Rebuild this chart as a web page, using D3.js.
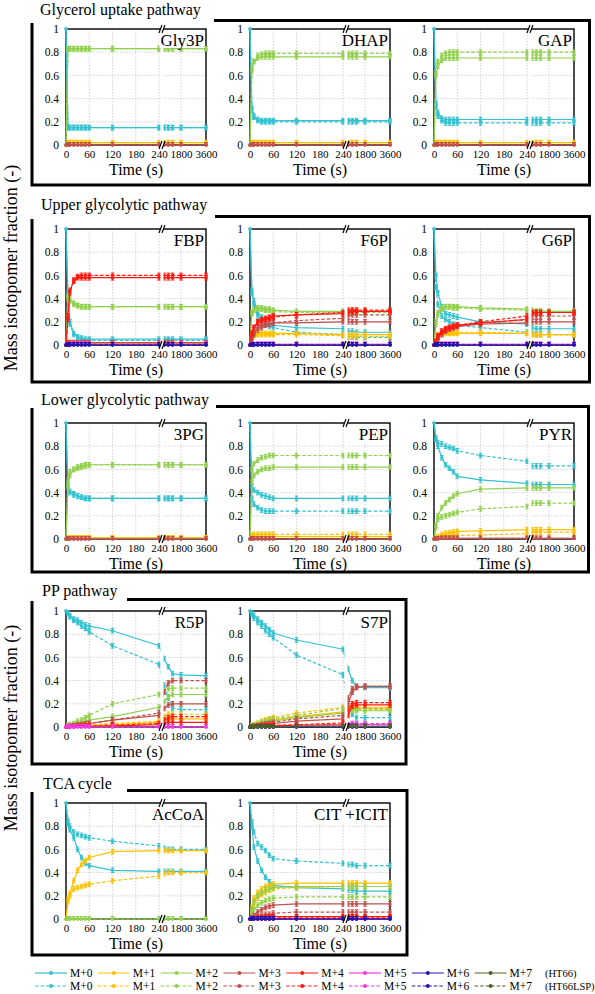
<!DOCTYPE html>
<html><head><meta charset="utf-8">
<script src="https://cdn.jsdelivr.net/npm/d3@7"></script>
<style>body{margin:0;background:#fff}svg,svg text{font-family:"Liberation Serif","Times New Roman",Tinos,"DejaVu Serif",serif}</style>
</head><body><svg id="c" width="595" height="994" font-family="Liberation Serif, Times New Roman, serif"></svg>
<script>
// ---------------- DATA ----------------
const times = [0,5,10,20,30,40,50,60,120,240,600,900,1200,1800,3600];
const xTickValues = [0,60,120,180,240,1800,3600];
const yTickValues = [0,0.2,0.4,0.6,0.8,1];
const isotopomers = ["M+0","M+1","M+2","M+3","M+4","M+5","M+6","M+7"];
const strains = ["(HT66)","(HT66LSP)"];
const colors = ["#35C2D0","#FFC000","#92D050","#C0504D","#FF1A0F","#F03CE0","#2414A8","#4F6228"];
const groupTitles = ["Glycerol uptake pathway","Upper glycolytic pathway","Lower glycolytic pathway","PP pathway","TCA cycle"];
const errorSize = 0.02;

// each array: one list per isotopomer (M+0, M+1, ...), values at `times`
const Gly3P_HT66 = [
 [1,0.15,0.15,0.15,0.15,0.15,0.15,0.15,0.15,0.15,0.15,0.15,0.15,0.15,0.15],
 [0,0.02,0.02,0.02,0.02,0.02,0.02,0.02,0.02,0.02,0.02,0.02,0.02,0.02,0.02],
 [0,0.83,0.83,0.83,0.83,0.83,0.83,0.83,0.83,0.83,0.83,0.83,0.83,0.83,0.83],
 [0,0,0,0,0,0,0,0,0,0,0,0,0,0,0]];
const Gly3P_HT66LSP = [
 [1,0.15,0.15,0.15,0.15,0.15,0.15,0.15,0.15,0.15,0.15,0.15,0.15,0.15,0.15],
 [0,0.02,0.02,0.02,0.02,0.02,0.02,0.02,0.02,0.02,0.02,0.02,0.02,0.02,0.02],
 [0,0.83,0.83,0.83,0.83,0.83,0.83,0.83,0.83,0.83,0.83,0.83,0.83,0.83,0.83],
 [0,0,0,0,0,0,0,0,0,0,0,0,0,0,0]];
const DHAP_HT66 = [
 [1,0.3,0.24,0.22,0.21,0.21,0.21,0.21,0.21,0.21,0.21,0.21,0.21,0.21,0.21],
 [0,0.02,0.02,0.02,0.02,0.02,0.02,0.02,0.02,0.02,0.02,0.02,0.02,0.02,0.02],
 [0,0.66,0.72,0.75,0.76,0.76,0.76,0.76,0.76,0.76,0.76,0.76,0.76,0.76,0.76],
 [0,0,0,0,0,0,0,0,0,0,0,0,0,0,0]];
const DHAP_HT66LSP = [
 [1,0.32,0.25,0.21,0.2,0.2,0.2,0.2,0.2,0.2,0.2,0.2,0.2,0.2,0.2],
 [0,0.02,0.02,0.02,0.02,0.02,0.02,0.02,0.02,0.02,0.02,0.02,0.02,0.02,0.02],
 [0,0.64,0.72,0.77,0.78,0.79,0.79,0.79,0.79,0.79,0.79,0.79,0.79,0.79,0.79],
 [0,0,0,0,0,0,0,0,0,0,0,0,0,0,0]];
const GAP_HT66 = [
 [1,0.36,0.28,0.23,0.22,0.22,0.22,0.22,0.22,0.22,0.22,0.22,0.22,0.22,0.22],
 [0,0.02,0.02,0.02,0.02,0.02,0.02,0.02,0.02,0.02,0.02,0.02,0.02,0.02,0.02],
 [0,0.6,0.68,0.73,0.75,0.75,0.75,0.75,0.75,0.75,0.75,0.75,0.75,0.75,0.75],
 [0,0,0,0,0,0,0,0,0,0,0,0,0,0,0]];
const GAP_HT66LSP = [
 [1,0.33,0.25,0.21,0.19,0.19,0.19,0.19,0.19,0.19,0.19,0.19,0.19,0.19,0.19],
 [0,0.02,0.02,0.02,0.02,0.02,0.02,0.02,0.02,0.02,0.02,0.02,0.02,0.02,0.02],
 [0,0.62,0.72,0.77,0.79,0.8,0.8,0.8,0.8,0.8,0.8,0.8,0.8,0.8,0.8],
 [0,0,0,0,0,0,0,0,0,0,0,0,0,0,0]];
const FBP_HT66 = [
 [1,0.45,0.2,0.1,0.07,0.06,0.05,0.05,0.05,0.05,0.05,0.05,0.05,0.05,0.05],
 [0,0.01,0.01,0.01,0.01,0.01,0.01,0.01,0.01,0.01,0.01,0.01,0.01,0.01,0.01],
 [0,0.42,0.4,0.35,0.34,0.33,0.33,0.33,0.33,0.33,0.33,0.33,0.33,0.33,0.33],
 [0,0.02,0.02,0.02,0.02,0.02,0.02,0.02,0.02,0.02,0.02,0.02,0.02,0.02,0.02],
 [0,0.25,0.47,0.55,0.58,0.58,0.58,0.58,0.58,0.58,0.58,0.58,0.58,0.58,0.58],
 [0,0,0,0.005,0.005,0.005,0.005,0.005,0.005,0.005,0.005,0.005,0.005,0.005,0.005],
 [0,0,0,0,0,0,0,0,0,0,0,0,0,0,0]];
const FBP_HT66LSP = [
 [1,0.42,0.18,0.09,0.06,0.05,0.04,0.04,0.04,0.04,0.04,0.04,0.04,0.04,0.04],
 [0,0.01,0.01,0.01,0.01,0.01,0.01,0.01,0.01,0.01,0.01,0.01,0.01,0.01,0.01],
 [0,0.4,0.38,0.36,0.34,0.33,0.33,0.33,0.33,0.33,0.33,0.33,0.33,0.33,0.33],
 [0,0.02,0.02,0.02,0.02,0.02,0.02,0.02,0.02,0.02,0.02,0.02,0.02,0.02,0.02],
 [0,0.22,0.45,0.56,0.59,0.6,0.6,0.6,0.6,0.6,0.6,0.6,0.6,0.6,0.6],
 [0,0,0,0.005,0.005,0.005,0.005,0.005,0.005,0.005,0.005,0.005,0.005,0.005,0.005],
 [0,0,0,0,0,0,0,0,0,0,0,0,0,0,0]];
const F6P_HT66 = [
 [1,0.47,0.38,0.28,0.24,0.2,0.18,0.17,0.15,0.14,0.12,0.12,0.11,0.11,0.11],
 [0,0.08,0.09,0.1,0.1,0.1,0.1,0.1,0.1,0.09,0.09,0.09,0.09,0.09,0.09],
 [0,0.28,0.3,0.32,0.32,0.31,0.31,0.3,0.29,0.29,0.29,0.29,0.29,0.29,0.29],
 [0,0.05,0.1,0.15,0.17,0.18,0.18,0.19,0.19,0.2,0.2,0.2,0.2,0.2,0.2],
 [0,0.1,0.15,0.2,0.22,0.23,0.24,0.25,0.26,0.27,0.28,0.29,0.29,0.29,0.29],
 [0,0,0,0.005,0.005,0.005,0.005,0.005,0.005,0.005,0.005,0.005,0.005,0.005,0.005],
 [0,0,0,0,0,0,0,0,0,0,0,0,0,0,0]];
const F6P_HT66LSP = [
 [1,0.45,0.35,0.25,0.2,0.18,0.16,0.15,0.11,0.09,0.07,0.07,0.065,0.065,0.065],
 [0,0.07,0.08,0.09,0.09,0.09,0.09,0.09,0.09,0.08,0.075,0.075,0.075,0.075,0.075],
 [0,0.27,0.3,0.31,0.31,0.3,0.3,0.29,0.28,0.28,0.28,0.28,0.28,0.28,0.28],
 [0,0.05,0.09,0.13,0.15,0.17,0.18,0.19,0.21,0.23,0.25,0.26,0.26,0.26,0.26],
 [0,0.1,0.15,0.19,0.21,0.22,0.23,0.24,0.26,0.28,0.3,0.3,0.3,0.3,0.3],
 [0,0,0,0.005,0.005,0.005,0.005,0.005,0.005,0.005,0.005,0.005,0.005,0.005,0.005],
 [0,0,0,0,0,0,0,0,0,0,0,0,0,0,0]];
const G6P_HT66 = [
 [1,0.6,0.45,0.33,0.27,0.26,0.25,0.24,0.2,0.18,0.15,0.14,0.14,0.14,0.14],
 [0,0.05,0.08,0.09,0.1,0.1,0.1,0.1,0.1,0.1,0.09,0.09,0.09,0.09,0.09],
 [0,0.2,0.28,0.32,0.33,0.33,0.33,0.33,0.32,0.31,0.3,0.29,0.29,0.29,0.29],
 [0,0.02,0.06,0.1,0.13,0.14,0.15,0.16,0.18,0.19,0.2,0.2,0.2,0.2,0.2],
 [0,0.03,0.08,0.12,0.14,0.15,0.16,0.17,0.19,0.22,0.27,0.28,0.28,0.28,0.28],
 [0,0,0,0.005,0.005,0.005,0.005,0.005,0.005,0.005,0.005,0.005,0.005,0.005,0.005],
 [0,0,0,0,0,0,0,0,0,0,0,0,0,0,0]];
const G6P_HT66LSP = [
 [1,0.5,0.35,0.25,0.22,0.2,0.18,0.17,0.15,0.11,0.1,0.09,0.09,0.09,0.09],
 [0,0.06,0.09,0.1,0.11,0.11,0.11,0.11,0.11,0.1,0.09,0.09,0.09,0.09,0.09],
 [0,0.18,0.26,0.31,0.33,0.33,0.32,0.32,0.31,0.3,0.29,0.29,0.29,0.29,0.29],
 [0,0.02,0.05,0.09,0.12,0.14,0.15,0.16,0.19,0.22,0.25,0.25,0.25,0.25,0.25],
 [0,0.03,0.07,0.11,0.13,0.15,0.16,0.17,0.2,0.25,0.28,0.28,0.28,0.28,0.28],
 [0,0,0,0.005,0.005,0.005,0.005,0.005,0.005,0.005,0.005,0.005,0.005,0.005,0.005],
 [0,0,0,0,0,0,0,0,0,0,0,0,0,0,0]];
const PG3_HT66 = [
 [1,0.47,0.4,0.39,0.37,0.36,0.35,0.35,0.35,0.35,0.35,0.35,0.35,0.35,0.35],
 [0,0.01,0.01,0.01,0.01,0.01,0.01,0.01,0.01,0.01,0.01,0.01,0.01,0.01,0.01],
 [0,0.45,0.55,0.6,0.61,0.62,0.63,0.64,0.64,0.64,0.64,0.64,0.64,0.64,0.64],
 [0,0,0,0,0,0,0,0,0,0,0,0,0,0,0]];
const PG3_HT66LSP = [
 [1,0.45,0.41,0.38,0.37,0.36,0.35,0.35,0.35,0.35,0.35,0.35,0.35,0.35,0.35],
 [0,0.01,0.01,0.01,0.01,0.01,0.01,0.01,0.01,0.01,0.01,0.01,0.01,0.01,0.01],
 [0,0.5,0.58,0.6,0.62,0.63,0.64,0.64,0.64,0.64,0.64,0.64,0.64,0.64,0.64],
 [0,0,0,0,0,0,0,0,0,0,0,0,0,0,0]];
const PEP_HT66 = [
 [1,0.45,0.42,0.4,0.38,0.37,0.36,0.35,0.35,0.35,0.35,0.35,0.35,0.35,0.35],
 [0,0.02,0.02,0.02,0.02,0.02,0.02,0.02,0.02,0.02,0.02,0.02,0.02,0.02,0.02],
 [0,0.5,0.55,0.58,0.6,0.61,0.61,0.62,0.62,0.62,0.62,0.62,0.62,0.62,0.62],
 [0,0,0,0,0,0,0,0,0,0,0,0,0,0,0]];
const PEP_HT66LSP = [
 [1,0.35,0.3,0.27,0.25,0.24,0.24,0.24,0.24,0.24,0.24,0.24,0.24,0.24,0.24],
 [0,0.03,0.04,0.04,0.04,0.04,0.04,0.04,0.04,0.04,0.04,0.04,0.04,0.04,0.04],
 [0,0.6,0.65,0.68,0.7,0.71,0.72,0.72,0.72,0.72,0.72,0.72,0.72,0.72,0.72],
 [0,0,0,0,0,0,0,0,0,0,0,0,0,0,0]];
const PYR_HT66 = [
 [1,0.86,0.8,0.7,0.64,0.61,0.58,0.54,0.51,0.48,0.47,0.47,0.47,0.47,0.47],
 [0,0.01,0.02,0.04,0.05,0.055,0.06,0.065,0.07,0.08,0.08,0.08,0.08,0.08,0.08],
 [0,0.1,0.2,0.27,0.31,0.34,0.37,0.39,0.43,0.44,0.44,0.44,0.44,0.44,0.44],
 [0,0,0,0.005,0.005,0.005,0.005,0.005,0.005,0.005,0.005,0.005,0.005,0.005,0.005]];
const PYR_HT66LSP = [
 [1,0.87,0.83,0.82,0.8,0.79,0.78,0.76,0.72,0.67,0.63,0.63,0.63,0.63,0.63],
 [0,0.005,0.01,0.015,0.02,0.025,0.03,0.03,0.035,0.045,0.06,0.06,0.06,0.06,0.06],
 [0,0.12,0.17,0.19,0.2,0.21,0.22,0.23,0.26,0.28,0.31,0.31,0.31,0.31,0.31],
 [0,0,0,0.005,0.005,0.005,0.005,0.005,0.005,0.005,0.005,0.005,0.005,0.005,0.005]];
const R5P_HT66 = [
 [1,0.98,0.96,0.93,0.92,0.9,0.88,0.87,0.83,0.7,0.59,0.52,0.46,0.45,0.44],
 [0,0,0.005,0.005,0.01,0.01,0.01,0.015,0.02,0.04,0.06,0.07,0.07,0.07,0.07],
 [0,0.005,0.01,0.02,0.03,0.04,0.05,0.06,0.09,0.17,0.22,0.26,0.28,0.28,0.28],
 [0,0,0.005,0.01,0.015,0.02,0.025,0.03,0.06,0.1,0.16,0.19,0.2,0.2,0.2],
 [0,0,0,0,0.005,0.005,0.005,0.005,0.01,0.02,0.03,0.04,0.04,0.04,0.04],
 [0,0,0,0,0,0,0,0,0,0,0,0,0,0,0]];
const R5P_HT66LSP = [
 [1,0.98,0.95,0.92,0.9,0.87,0.85,0.82,0.7,0.54,0.36,0.25,0.16,0.15,0.15],
 [0,0,0.005,0.01,0.01,0.015,0.015,0.02,0.03,0.05,0.09,0.11,0.11,0.11,0.11],
 [0,0.01,0.02,0.03,0.05,0.06,0.08,0.1,0.2,0.28,0.31,0.33,0.335,0.335,0.335],
 [0,0,0.005,0.01,0.015,0.02,0.025,0.03,0.06,0.12,0.3,0.38,0.4,0.4,0.4],
 [0,0,0,0,0.005,0.005,0.005,0.01,0.015,0.03,0.06,0.08,0.09,0.09,0.09],
 [0,0,0,0,0,0,0,0,0,0,0,0,0,0,0]];
const S7P_HT66 = [
 [1,0.98,0.96,0.93,0.9,0.87,0.84,0.81,0.75,0.67,0.5,0.4,0.35,0.34,0.34],
 [0,0.005,0.01,0.02,0.03,0.04,0.05,0.06,0.09,0.13,0.15,0.16,0.16,0.16,0.16],
 [0,0.005,0.01,0.02,0.03,0.035,0.04,0.05,0.08,0.12,0.14,0.14,0.14,0.14,0.14],
 [0,0,0.005,0.01,0.015,0.02,0.025,0.03,0.05,0.07,0.2,0.3,0.34,0.35,0.35],
 [0,0,0,0.005,0.005,0.01,0.01,0.01,0.015,0.02,0.1,0.18,0.19,0.19,0.19],
 [0,0,0,0,0,0,0,0,0.005,0.005,0.01,0.02,0.02,0.02,0.02],
 [0,0,0,0,0,0,0,0,0,0,0,0,0,0,0],
 [0,0,0,0,0,0,0,0,0.005,0.005,0.005,0.005,0.005,0.005,0.005]];
const S7P_HT66LSP = [
 [1,0.97,0.94,0.9,0.87,0.83,0.8,0.77,0.62,0.45,0.2,0.11,0.08,0.08,0.08],
 [0,0.01,0.02,0.03,0.05,0.06,0.07,0.08,0.12,0.17,0.17,0.17,0.17,0.17,0.17],
 [0,0.01,0.015,0.03,0.04,0.05,0.06,0.07,0.1,0.16,0.15,0.15,0.15,0.15,0.15],
 [0,0,0.005,0.01,0.02,0.025,0.03,0.04,0.07,0.1,0.25,0.33,0.35,0.35,0.35],
 [0,0,0,0.005,0.005,0.01,0.01,0.015,0.02,0.035,0.15,0.2,0.21,0.21,0.21],
 [0,0,0,0,0,0,0,0,0.005,0.005,0.02,0.03,0.03,0.03,0.03],
 [0,0,0,0,0,0,0,0,0,0,0,0,0,0,0],
 [0,0,0,0,0,0,0,0,0.005,0.005,0.005,0.005,0.005,0.005,0.005]];
const AcCoA_HT66 = [
 [1,0.82,0.77,0.7,0.6,0.53,0.48,0.46,0.42,0.41,0.41,0.41,0.41,0.41,0.41],
 [0,0.17,0.22,0.33,0.42,0.47,0.5,0.53,0.58,0.59,0.59,0.59,0.59,0.59,0.59],
 [0,0,0,0,0,0,0,0,0,0,0,0,0,0,0]];
const AcCoA_HT66LSP = [
 [1,0.85,0.8,0.75,0.73,0.72,0.71,0.7,0.67,0.63,0.61,0.6,0.6,0.6,0.6],
 [0,0.15,0.2,0.26,0.27,0.28,0.29,0.3,0.33,0.37,0.39,0.4,0.4,0.4,0.4],
 [0,0,0,0,0,0,0,0,0,0,0,0,0,0,0]];
const CIT_HT66 = [
 [1,0.8,0.62,0.5,0.42,0.36,0.32,0.29,0.27,0.26,0.25,0.25,0.24,0.24,0.24],
 [0,0.1,0.18,0.23,0.26,0.28,0.29,0.3,0.31,0.31,0.31,0.31,0.31,0.31,0.31],
 [0,0.08,0.15,0.2,0.23,0.25,0.26,0.27,0.28,0.28,0.28,0.28,0.28,0.28,0.28],
 [0,0.01,0.03,0.06,0.08,0.1,0.11,0.12,0.13,0.13,0.13,0.13,0.13,0.13,0.13],
 [0,0,0,0.005,0.01,0.01,0.015,0.02,0.02,0.02,0.02,0.02,0.02,0.02,0.02],
 [0,0,0,0,0,0,0,0,0,0,0,0,0,0,0],
 [0,0,0,0,0,0,0,0,0,0,0,0,0,0,0]];
const CIT_HT66LSP = [
 [1,0.84,0.75,0.65,0.62,0.59,0.55,0.52,0.5,0.48,0.47,0.47,0.46,0.46,0.46],
 [0,0.06,0.12,0.18,0.21,0.23,0.25,0.26,0.27,0.28,0.28,0.28,0.28,0.28,0.28],
 [0,0.04,0.08,0.12,0.14,0.16,0.17,0.18,0.19,0.19,0.19,0.19,0.19,0.19,0.19],
 [0,0.005,0.01,0.02,0.03,0.04,0.04,0.05,0.06,0.06,0.06,0.06,0.06,0.06,0.06],
 [0,0,0,0.005,0.005,0.01,0.01,0.01,0.01,0.01,0.01,0.01,0.01,0.01,0.01],
 [0,0,0,0,0,0,0,0,0,0,0,0,0,0,0],
 [0,0,0,0,0,0,0,0,0,0,0,0,0,0,0]];

// ---------------- LAYOUT ----------------
const FONT = "Liberation Serif, Times New Roman, serif";
const svg = d3.select("#c");
const PW = 140, PH = 116;
const colX = [66, 250, 434];
const rowTop = [29, 229, 423, 611, 803];
const panels = [
 {name:"Gly3P", col:0, row:0, s:[Gly3P_HT66, Gly3P_HT66LSP]},
 {name:"DHAP", col:1, row:0, s:[DHAP_HT66, DHAP_HT66LSP]},
 {name:"GAP", col:2, row:0, s:[GAP_HT66, GAP_HT66LSP]},
 {name:"FBP", col:0, row:1, s:[FBP_HT66, FBP_HT66LSP]},
 {name:"F6P", col:1, row:1, s:[F6P_HT66, F6P_HT66LSP]},
 {name:"G6P", col:2, row:1, s:[G6P_HT66, G6P_HT66LSP]},
 {name:"3PG", col:0, row:2, s:[PG3_HT66, PG3_HT66LSP]},
 {name:"PEP", col:1, row:2, s:[PEP_HT66, PEP_HT66LSP]},
 {name:"PYR", col:2, row:2, s:[PYR_HT66, PYR_HT66LSP]},
 {name:"R5P", col:0, row:3, s:[R5P_HT66, R5P_HT66LSP]},
 {name:"S7P", col:1, row:3, s:[S7P_HT66, S7P_HT66LSP]},
 {name:"AcCoA", col:0, row:4, s:[AcCoA_HT66, AcCoA_HT66LSP]},
 {name:"CIT +ICIT", col:1, row:4, s:[CIT_HT66, CIT_HT66LSP]}
];

// group boxes
const groups = [
 {title:groupTitles[0], tx:40, ty:15, path:"M214,20.5H589.5V185H32V23"},
 {title:groupTitles[1], tx:41, ty:210, path:"M215,216.5H589.5V382H32V219"},
 {title:groupTitles[2], tx:41, ty:405, path:"M216,406.5H588.5V572H32V408"},
 {title:groupTitles[3], tx:42, ty:596, path:"M127,599.5H406V764H32V601"},
 {title:groupTitles[4], tx:43, ty:789, path:"M127,790.5H407V955H32V792"}
];
groups.forEach(g => {
  svg.append("path").attr("d", g.path).attr("fill","none").attr("stroke","#000").attr("stroke-width",3);
  svg.append("text").attr("x", g.tx).attr("y", g.ty).attr("font-family",FONT).attr("font-size", 16).text(g.title);
});

// y-axis titles
[268, 728].forEach(cy => {
  svg.append("text").attr("transform", `translate(17,${cy}) rotate(-90)`).attr("font-family",FONT)
    .attr("text-anchor","middle").attr("font-size",18).text("Mass isotopomer fraction (-)");
});

panels.forEach(p => {
  const L = colX[p.col], T = rowTop[p.row], B = T + PH, R = L + PW;
  const x = d3.scaleLinear().domain([0,240,1800,3600]).range([L, L+93, L+115, R]);
  const y = d3.scaleLinear().domain([0,1]).range([B, T]);
  const g = svg.append("g");
  // grid
  yTickValues.filter(v => v>0 && v<1).forEach(v => {
    g.append("line").attr("x1",L).attr("x2",R).attr("y1",y(v)).attr("y2",y(v))
      .attr("stroke","#c8c8c8").attr("stroke-width",0.8).attr("stroke-dasharray","1.5,1.5");
  });
  xTickValues.filter(v => v>0 && v<3600).forEach(v => {
    g.append("line").attr("x1",x(v)).attr("x2",x(v)).attr("y1",T).attr("y2",B)
      .attr("stroke","#c8c8c8").attr("stroke-width",0.8).attr("stroke-dasharray","1.5,1.5");
  });
  // axes
  const ya = d3.axisLeft(y).tickValues(yTickValues).tickSize(0).tickPadding(7)
     .tickFormat(d => d===0 ? "0" : d===1 ? "1" : d3.format(".1f")(d));
  const yg = g.append("g").attr("transform",`translate(${L},0)`).call(ya).attr("font-family",FONT).attr("font-size",11.5);
  yg.select(".domain").remove();
  const xa = d3.axisBottom(x).tickValues(xTickValues).tickSize(0).tickPadding(5).tickFormat(d3.format("d"));
  const xg = g.append("g").attr("transform",`translate(0,${B})`).call(xa).attr("font-family",FONT).attr("font-size",11);
  xg.select(".domain").remove();
  g.append("text").attr("x",(L+R)/2).attr("y",B+30).attr("text-anchor","middle").attr("font-family",FONT).attr("font-size",16).text("Time (s)");
  // frame
  g.append("rect").attr("x",L).attr("y",T).attr("width",PW).attr("height",PH)
    .attr("fill","none").attr("stroke","#000").attr("stroke-width",1.4);
  // series
  const line = d3.line().x((d,i) => x(times[i])).y(d => y(d));
  const n = p.s[0].length;
  for (let k = 0; k < n; k++) {
    [0,1].forEach(si => {
      const vals = p.s[si][k];
      const c = colors[k];
      const sg = g.append("g");
      sg.append("path").datum(vals).attr("d", line).attr("fill","none").attr("stroke",c)
        .attr("stroke-width",1.2).attr("stroke-dasharray", si ? "3.5,2" : null);
      vals.forEach((v,i) => {
        if (i > 0) {
          const y1 = y(Math.min(1, v+errorSize)), y2 = y(Math.max(0, v-errorSize));
          sg.append("line").attr("x1",x(times[i])).attr("x2",x(times[i])).attr("y1",y1).attr("y2",y2).attr("stroke",c).attr("stroke-width",1);
          sg.append("line").attr("x1",x(times[i])-1.8).attr("x2",x(times[i])+1.8).attr("y1",y1).attr("y2",y1).attr("stroke",c).attr("stroke-width",1);
          sg.append("line").attr("x1",x(times[i])-1.8).attr("x2",x(times[i])+1.8).attr("y1",y2).attr("y2",y2).attr("stroke",c).attr("stroke-width",1);
        }
        sg.append("circle").attr("cx",x(times[i])).attr("cy",y(v)).attr("r",1.7).attr("fill",c);
      });
    });
  }
  // axis break strip
  const bx = x(240) + 3;
  g.append("rect").attr("x",bx-1.5).attr("y",T-3).attr("width",3).attr("height",PH+6).attr("fill","#fff");
  // panel label with white background
  const lab = g.append("text").attr("x",R-2).attr("y",T+17).attr("text-anchor","end")
    .attr("font-family",FONT).attr("font-size",17).text(p.name);
  const bb = lab.node().getBBox();
  g.insert("rect", () => lab.node()).attr("x",bb.x-1).attr("y",T+1).attr("width",bb.width+1).attr("height",bb.height-1).attr("fill","#fff");
  // break marks
  [T, B].forEach(yy => {
    [-1.5, 1.5].forEach(dx => {
      g.append("line").attr("x1",bx+dx-1.5).attr("x2",bx+dx+1.5).attr("y1",yy+4).attr("y2",yy-4)
        .attr("stroke","#000").attr("stroke-width",1.1);
    });
  });
});

// legend
const legRows = [973, 986];
strains.forEach((st, si) => {
  const yy = legRows[si];
  isotopomers.forEach((m, k) => {
    const x0 = 35 + k * 62.8;
    svg.append("line").attr("x1",x0).attr("x2",x0+32).attr("y1",yy).attr("y2",yy)
      .attr("stroke",colors[k]).attr("stroke-width",1.2).attr("stroke-dasharray", si ? "3.5,2" : null);
    svg.append("circle").attr("cx",x0+16).attr("cy",yy).attr("r",2).attr("fill",colors[k]);
    svg.append("text").attr("x",x0+35).attr("y",yy+4).attr("font-family",FONT).attr("font-size",11.5).text(m);
  });
  svg.append("text").attr("x",545).attr("y",yy+4).attr("font-family",FONT).attr("font-size",10.5).text(st);
});
</script></body></html>
